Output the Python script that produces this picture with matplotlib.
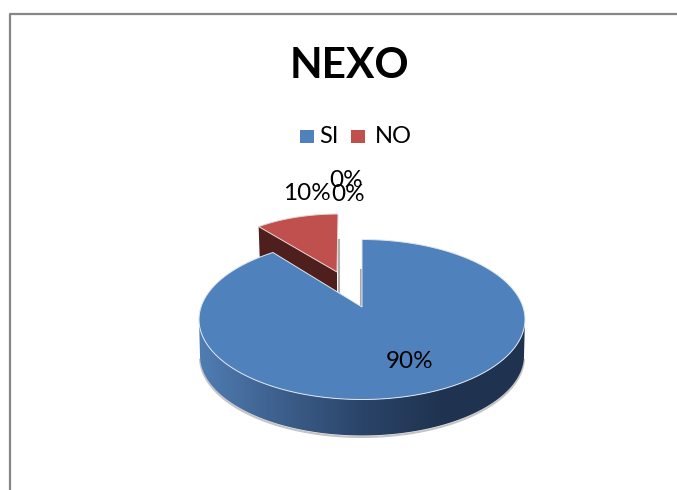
import matplotlib
matplotlib.use("Agg")
import matplotlib.pyplot as plt
import numpy as np
from matplotlib.colors import LinearSegmentedColormap
from matplotlib.patches import Polygon, Rectangle

title = "NEXO"
categories = ["SI", "NO"]
values = [90, 10]
pct_labels = ["90%", "10%", "0%", "0%"]
colors = ["#4f81bd", "#c0504d"]
side_colors = ["#4f7db3", "#3d5f8c", "#2a4468", "#1f3350", "#1f3350"]
red_side = "#4f1f1d"


def arc(cx, cy, rx, ry, start, stop):
    # angles clockwise from 12 o'clock, projected on the tilted plane
    t = np.radians(np.linspace(start, stop, 200))
    return np.column_stack([cx + rx * np.sin(t), cy - ry * np.cos(t)])


fig = plt.figure(figsize=(6.77, 4.90), dpi=100)
ax = fig.add_axes([0, 0, 1, 1])
ax.set_xlim(0, 677)
ax.set_ylim(490, 0)
ax.axis("off")
plt.rcParams["font.family"] = ["Lato", "DejaVu Sans"]

# chart frame, runs off the right and bottom of the picture
ax.plot([10, 10, 677], [490, 14, 14], color="#868686", lw=1.6)

ax.text(349, 66, title, ha="center", va="center", fontsize=30.5, fontweight="bold", color="black")

# legend
ax.add_patch(Rectangle((300, 129.5), 13.5, 13, color=colors[0], lw=0))
ax.text(319, 136, categories[0], va="center", fontsize=17)
ax.add_patch(Rectangle((351, 129.5), 13.5, 13, color=colors[1], lw=0))
ax.text(375, 136, categories[1], va="center", fontsize=17)

angle = 360 * values[1] / sum(values)

# blue slice: shadow, side with gradient, top
cx, cy, rx, ry, depth = 362, 319.5, 163, 80, 36
low = arc(cx, cy + depth, rx - 1, ry, 90, 270)
shadow = arc(cx, cy + depth + 1.5, rx - 1, ry, 92, 268)
ax.plot(shadow[:, 0], shadow[:, 1], color="#c4c4c4", lw=1.5)
side = Polygon(np.vstack([arc(cx, cy, rx, ry, 270, 90), low]), closed=True,
               fc="none", ec="none")
ax.add_patch(side)
cmap = LinearSegmentedColormap.from_list("side", side_colors)
grad = ax.imshow(np.linspace(0, 1, 256).reshape(1, -1), cmap=cmap, aspect="auto",
                 extent=[cx - rx, cx + rx, cy + depth + ry, cy - ry], zorder=2)
grad.set_clip_path(side)
ax.set_xlim(0, 677)
ax.set_ylim(490, 0)

# red slice, pulled out from the pie
rcx, rcy, rrx, rry = 338, 280, 135, 66
apex = np.array([337, 272])
red_arc = arc(rcx, rcy, rrx, rry, 360 - angle, 360)
ax.plot([339, 339], [240, 292], color="#b0b0b0", lw=1.5, zorder=2)
ax.add_patch(Polygon([red_arc[0], apex, apex + [0, 20], red_arc[0] + [1, 30]],
                     closed=True, fc=red_side, ec="none", zorder=3))
ax.add_patch(Polygon(np.vstack([red_arc, apex]), closed=True, fc=colors[1],
                     ec="#e3d5d5", lw=0.7, zorder=4))

# blue top, the tilt squeezes the gap a little
blue_arc = arc(cx, cy, rx, ry, 0, 360 - angle * 0.92)
ax.plot([cx - 1.5, cx - 1.5], [270, 306], color="#a8a8a8", lw=1.5, zorder=4)
ax.add_patch(Polygon(np.vstack([blue_arc, [cx, 307]]), closed=True, fc=colors[0],
                     ec="#dfe6ef", lw=0.7, zorder=5))

# data labels
ax.text(409.5, 361, pct_labels[0], ha="center", va="center", fontsize=17.5, zorder=6)
ax.text(306.5, 193, pct_labels[1], ha="center", va="center", fontsize=17.5, zorder=6)
ax.text(348, 194, pct_labels[2], ha="center", va="center", fontsize=17.5, zorder=6)
ax.text(346, 180, pct_labels[3], ha="center", va="center", fontsize=17.5, zorder=6)

fig.savefig("out.png", dpi=100)
